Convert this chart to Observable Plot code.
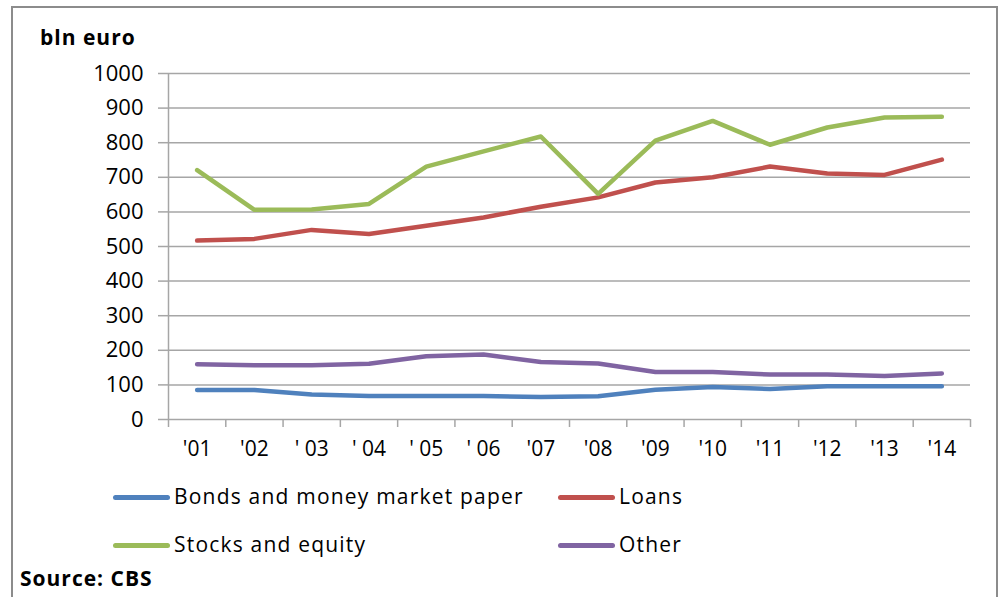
<!DOCTYPE html>
<html>
<head>
<meta charset="utf-8">
<script src="https://cdn.jsdelivr.net/npm/d3@7"></script>
<script src="https://cdn.jsdelivr.net/npm/@observablehq/plot@0.6"></script>
<style>
  html, body { margin: 0; padding: 0; background: #fff; }
  #page { position: relative; width: 999px; height: 597px; overflow: hidden; background: #fff;
          font-family: "Open Sans", "DejaVu Sans", sans-serif; color: #000; }
  #frame { position: absolute; left: 11px; top: 6px; width: 987px; height: 640px;
           border: 2px solid #8c8c8c; box-sizing: border-box; }
  #chart { position: absolute; left: 0; top: 0; }
  .lbl { position: absolute; height: 30px; line-height: 30px; white-space: nowrap; }
  .ylab { left: 40px; top: 22px; font-weight: bold; font-size: 21px; letter-spacing: 1px; }
  .src { left: 20px; top: 563px; font-weight: bold; font-size: 21px; letter-spacing: 1px; }
  .leg { font-size: 21px; letter-spacing: 1.2px; }
  .sw { position: absolute; height: 5px; border-radius: 3px; width: 57px; }
</style>
</head>
<body>
<div id="page">
  <div id="frame"></div>
  <div id="chart"></div>
  <div class="lbl ylab">bln euro</div>
  <div id="legend"></div>
  <div class="lbl src">Source: CBS</div>
</div>
<script>
const years = ["'01", "'02", "' 03", "' 04", "' 05", "' 06", "'07", "'08", "'09", "'10", "'11", "'12", "'13", "'14"];
const seriesNames = ["Bonds and money market paper", "Loans", "Stocks and equity", "Other"];
const seriesColors = ["#4F81BD", "#C0504D", "#9BBB59", "#8064A2"];
const bonds  = [85, 85, 72, 68, 68, 68, 65, 67, 86, 94, 88, 96, 96, 96];
const loans  = [517, 522, 548, 536, 560, 584, 615, 642, 685, 700, 731, 711, 707, 751];
const stocks = [721, 606, 607, 623, 731, 775, 818, 652, 806, 863, 794, 844, 873, 875];
const other  = [160, 157, 157, 161, 183, 188, 166, 162, 137, 137, 130, 130, 126, 133];
const yTicks = [0, 100, 200, 300, 400, 500, 600, 700, 800, 900, 1000];

const seriesValues = [bonds, loans, stocks, other];
const rows = [];
seriesValues.forEach((vals, s) => vals.forEach((v, i) => rows.push({i, year: years[i], value: v, series: seriesNames[s]})));

const boundaries = d3.range(0, years.length + 1);
const centers = years.map((_, i) => i + 0.5);
const gridColor = "#a6a6a6";

const chart = Plot.plot({
  width: 999,
  height: 480,
  marginLeft: 168,
  marginRight: 29,
  marginTop: 73,
  marginBottom: 61,
  style: { fontFamily: "'Open Sans', 'DejaVu Sans', sans-serif", background: "transparent", color: "#000", overflow: "visible" },
  x: { type: "linear", domain: [0, years.length], axis: null, label: null },
  y: { domain: [0, 1000], axis: null, label: null },
  color: { domain: seriesNames, range: seriesColors },
  marks: [
    Plot.gridY(yTicks, { stroke: gridColor, strokeOpacity: 1, strokeWidth: 1.5 }),
    Plot.axisY(yTicks, { label: null, tickSize: 10, tickPadding: 15, stroke: gridColor, strokeWidth: 1.5, strokeOpacity: 1, fill: "#000", fontSize: 22, tickFormat: d => String(d), style: "letter-spacing:1px" }),
    Plot.ruleX([0], { stroke: gridColor, strokeWidth: 1.5 }),
    Plot.axisX(boundaries, { label: null, tickSize: 8, tickFormat: () => "", stroke: gridColor, strokeWidth: 1.5, strokeOpacity: 1 }),
    Plot.axisX(centers, { label: null, tickSize: 0, tickPadding: 22, fill: "#000", fontSize: 21, tickFormat: d => years[Math.floor(d)] }),
    Plot.line(rows, { x: d => d.i + 0.5, y: "value", z: "series", stroke: "series", strokeWidth: 4.5, strokeLinecap: "round", strokeLinejoin: "round" })
  ]
});
document.getElementById("chart").appendChild(chart);

// legend (HTML, below/around the SVG)
const legend = document.getElementById("legend");
const legPos = [
  { sx: 113, tx: 174, cy: 497 },
  { sx: 558, tx: 619, cy: 497 },
  { sx: 113, tx: 174, cy: 545 },
  { sx: 558, tx: 619, cy: 545 }
];
seriesNames.forEach((name, k) => {
  const p = legPos[k];
  const sw = document.createElement("div");
  sw.className = "sw";
  sw.style.left = p.sx + "px";
  sw.style.top = (p.cy - 2.5) + "px";
  sw.style.background = seriesColors[k];
  legend.appendChild(sw);
  const t = document.createElement("div");
  t.className = "lbl leg";
  t.style.left = p.tx + "px";
  t.style.top = (p.cy - 16) + "px";
  t.textContent = name;
  legend.appendChild(t);
});
</script>
</body>
</html>
